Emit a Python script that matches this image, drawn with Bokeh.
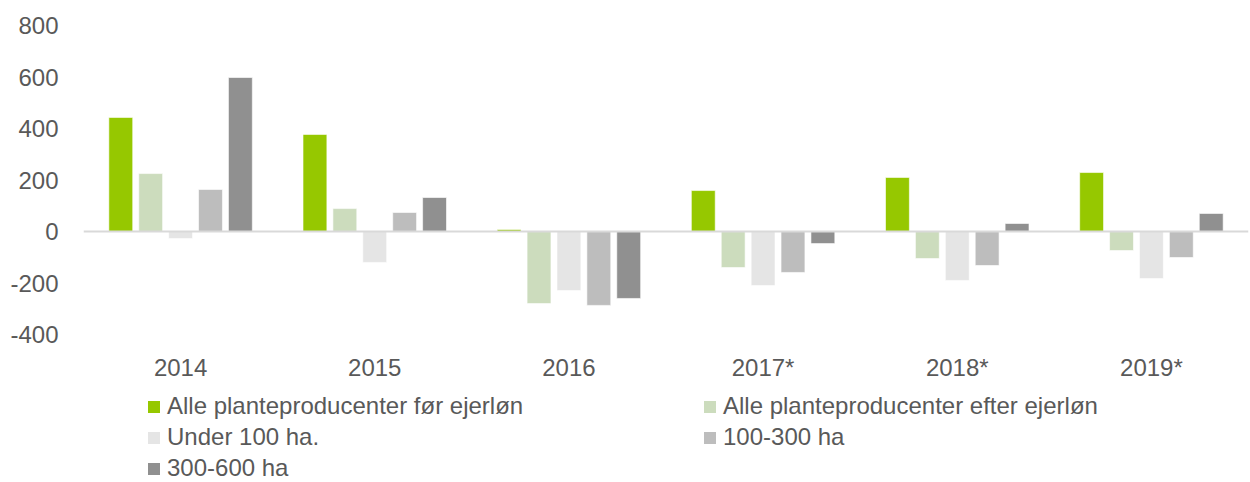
from bokeh.plotting import figure
from bokeh.models import ColumnDataSource, FactorRange, Range1d, Span, Legend, LegendItem, FixedTicker
from bokeh.transform import dodge
from bokeh.layouts import column
from bokeh.embed import file_html
from bokeh.resources import INLINE

years = ["2014", "2015", "2016", "2017*", "2018*", "2019*"]
series_names = ["Alle planteproducenter før ejerløn", "Alle planteproducenter efter ejerløn",
                "Under 100 ha.", "100-300 ha", "300-600 ha"]
alle_foer = [443, 377, 8, 159, 210, 229]
alle_efter = [225, 89, -280, -140, -105, -74]
under_100 = [-27, -120, -229, -210, -190, -183]
ha_100_300 = [163, 74, -287, -159, -132, -101]
ha_300_600 = [598, 132, -260, -47, 31, 70]
colors = ["#96C800", "#CCDCBD", "#E5E5E5", "#BDBDBD", "#909090"]
y_ticks = [-400, -200, 0, 200, 400, 600, 800]

src = ColumnDataSource(dict(year=years, s0=alle_foer, s1=alle_efter, s2=under_100,
                            s3=ha_100_300, s4=ha_300_600))
cols = ["s0", "s1", "s2", "s3", "s4"]

FONT = "Liberation Sans"
TXT = "#595959"

p = figure(width=1250, height=389, x_range=FactorRange(*years), y_range=Range1d(-400, 800),
           output_backend="svg", toolbar_location=None,
           min_border_left=83, min_border_right=2, min_border_top=25, min_border_bottom=55)
p.outline_line_color = None
p.grid.visible = False
p.background_fill_color = "white"

offsets = [-0.308, -0.154, 0.0, 0.154, 0.308]
for i, col in enumerate(cols):
    p.vbar(x=dodge("year", offsets[i], range=p.x_range), top=col, bottom=0, width=0.123,
           source=src, fill_color=colors[i], line_color="white", line_width=1, line_alpha=0.6)

p.add_layout(Span(location=0, dimension="width", line_color="#D9D9D9", line_width=2))

p.yaxis.ticker = FixedTicker(ticks=y_ticks)
p.yaxis.major_label_overrides = {t: str(t) for t in y_ticks}
for ax in (p.xaxis[0], p.yaxis[0]):
    ax.axis_line_color = None
    ax.major_tick_line_color = None
    ax.minor_tick_line_color = None
    ax.major_label_text_font = FONT
    ax.major_label_text_font_size = "24px"
    ax.major_label_text_color = TXT
p.yaxis.major_label_standoff = 19
p.xaxis.major_label_standoff = 13

# legend-only figure below the chart (hidden copies of the series supply the legend swatches)
lg = figure(width=1250, height=93, x_range=FactorRange(*years), y_range=Range1d(-400, 800),
            output_backend="svg", toolbar_location=None,
            x_axis_location=None, y_axis_location=None,
            min_border_left=0, min_border_right=0, min_border_top=0, min_border_bottom=0)
lg.outline_line_color = None
lg.grid.visible = False
lg_renderers = []
for i, col in enumerate(cols):
    r = lg.vbar(x=dodge("year", offsets[i], range=lg.x_range), top=col, bottom=0, width=0.123,
                source=src, fill_color=colors[i], line_color=None)
    r.visible = False
    lg_renderers.append(r)
items = [LegendItem(label=series_names[i], renderers=[lg_renderers[i]]) for i in range(5)]
legend = Legend(items=items, location=(63, 0), ncols=2, orientation="horizontal",
                label_text_font=FONT, label_text_font_size="24px", label_text_color=TXT,
                glyph_width=15, glyph_height=15, label_standoff=6, label_width=532,
                spacing=3, padding=0, margin=0, border_line_color=None,
                background_fill_alpha=0, inactive_fill_alpha=0)
lg.add_layout(legend, "center")

open("out.html", "w").write(file_html(column(p, lg), INLINE))
